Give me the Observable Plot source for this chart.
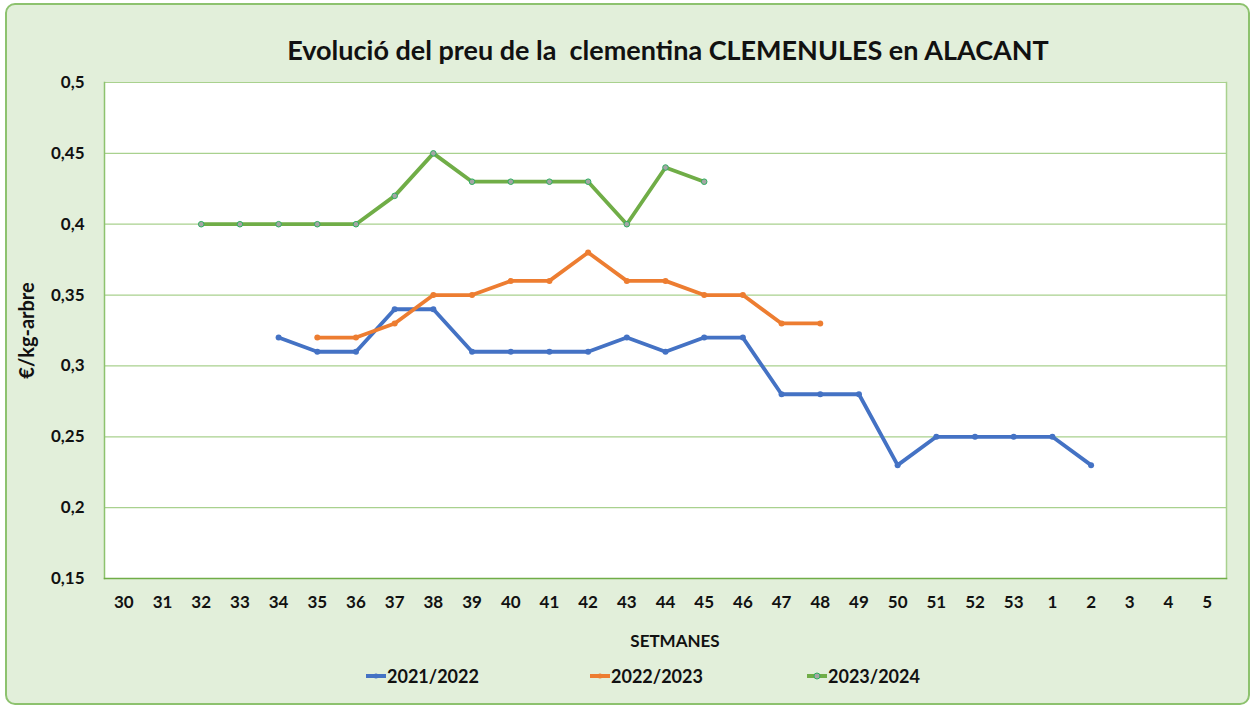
<!DOCTYPE html>
<html>
<head>
<meta charset="utf-8">
<script src="https://cdn.jsdelivr.net/npm/d3@7"></script>
<script src="https://cdn.jsdelivr.net/npm/@observablehq/plot@0.6"></script>
<style>
  html, body { margin: 0; padding: 0; background: #ffffff; width: 1255px; height: 708px; overflow: hidden; font-family: Lato, "Open Sans", sans-serif; }
  #card { position: absolute; left: 5px; top: 3px; width: 1245px; height: 702px; box-sizing: border-box; border: 2px solid #8DC26E; border-radius: 10px; background: #E2EFDA; }
  #title { position: absolute; left: 0; width: 1336px; top: 33px; text-align: center; font-size: 27px; font-weight: 700; color: #111; white-space: pre; }
  #chart { position: absolute; left: 0; top: 0; }
  #xlabel { position: absolute; left: 0; width: 1350px; top: 630px; text-align: center; font-size: 17px; font-weight: 700; color: #111; }
  .leg { position: absolute; top: 665px; font-size: 18px; font-weight: 700; color: #111; display: flex; align-items: center; }
  .leg svg { margin-right: 1px; }
</style>
</head>
<body>
<div id="card"></div>
<div id="chart"></div>
<div id="title"></div>
<div id="xlabel"></div>
<div id="legend"></div>
<script>
const titleText = "Evolució del preu de la  clementina CLEMENULES en ALACANT";
const yLabel = "€/kg-arbre";
const xLabel = "SETMANES";

const weeks = ["30","31","32","33","34","35","36","37","38","39","40","41","42","43","44","45","46","47","48","49","50","51","52","53","1","2","3","4","5"];
const yTicks = [0.15, 0.2, 0.25, 0.3, 0.35, 0.4, 0.45, 0.5];
const yTickLabels = ["0,15","0,2","0,25","0,3","0,35","0,4","0,45","0,5"];

const seasons = ["2021/2022", "2022/2023", "2023/2024"];
const colors = ["#4472C4", "#ED7D31", "#70AD47"];

const weeks2122 = ["34","35","36","37","38","39","40","41","42","43","44","45","46","47","48","49","50","51","52","53","1","2"];
const values2122 = [0.32,0.31,0.31,0.34,0.34,0.31,0.31,0.31,0.31,0.32,0.31,0.32,0.32,0.28,0.28,0.28,0.23,0.25,0.25,0.25,0.25,0.23];

const weeks2223 = ["35","36","37","38","39","40","41","42","43","44","45","46","47","48"];
const values2223 = [0.32,0.32,0.33,0.35,0.35,0.36,0.36,0.38,0.36,0.36,0.35,0.35,0.33,0.33];

const weeks2324 = ["32","33","34","35","36","37","38","39","40","41","42","43","44","45"];
const values2324 = [0.40,0.40,0.40,0.40,0.40,0.42,0.45,0.43,0.43,0.43,0.43,0.40,0.44,0.43];

const mk = (season, ws, vs) => ws.map((w, i) => ({season, week: w, value: vs[i]}));
const d1 = mk(seasons[0], weeks2122, values2122);
const d2 = mk(seasons[1], weeks2223, values2223);
const d3s = mk(seasons[2], weeks2324, values2324);

document.getElementById("title").textContent = titleText;
document.getElementById("xlabel").textContent = xLabel;

const gridColor = "#A9D18E";
const frameColor = "#8DC26E";

const chart = Plot.plot({
  width: 1255,
  height: 640,
  marginLeft: 104,
  marginRight: 29,
  marginTop: 82,
  marginBottom: 62,
  style: { background: "transparent", fontFamily: "Lato, 'Open Sans', sans-serif", fontSize: "17px", fontWeight: 700, color: "#111" },
  x: { type: "point", domain: weeks, padding: 0.5, round: false, label: null },
  y: { domain: [0.15, 0.5], label: null },
  marks: [
    Plot.frame({ fill: "white", stroke: null }),
    Plot.ruleY(yTicks, { stroke: gridColor, strokeWidth: 1.2 }),
    Plot.frame({ stroke: frameColor, strokeWidth: 1.5, anchor: "left" }),
    Plot.frame({ stroke: "#A9D18E", strokeWidth: 1.5, anchor: "right" }),
    Plot.frame({ stroke: "#70AD47", strokeWidth: 1.5, anchor: "bottom" }),
    Plot.axisX({ ticks: weeks, tickSize: 0, tickPadding: 17, fontSize: 17, fontWeight: 700, label: null }),
    Plot.axisY({ ticks: yTicks, tickSize: 0, tickPadding: 20, tickFormat: (d) => yTickLabels[yTicks.indexOf(d)] ?? "", fontSize: 17, fontWeight: 700, label: null }),
    Plot.text([yLabel], { frameAnchor: "left", textAnchor: "middle", dx: -77, rotate: -90, text: (d) => d, fontSize: 20, fontWeight: 700, fill: "#111" }),
    Plot.line(d1, { x: "week", y: "value", stroke: colors[0], strokeWidth: 3.8 }),
    Plot.dot(d1, { x: "week", y: "value", fill: colors[0], r: 3 }),
    Plot.line(d2, { x: "week", y: "value", stroke: colors[1], strokeWidth: 3.8 }),
    Plot.dot(d2, { x: "week", y: "value", fill: colors[1], r: 3 }),
    Plot.line(d3s, { x: "week", y: "value", stroke: colors[2], strokeWidth: 3.8 }),
    Plot.dot(d3s, { x: "week", y: "value", fill: "#A5A5A5", stroke: "#2FB060", strokeWidth: 1, r: 2.8 })
  ]
});
document.getElementById("chart").appendChild(chart);

// Legend
const legendLefts = [366, 590, 807];
const legend = document.getElementById("legend");
seasons.forEach((s, i) => {
  const item = document.createElement("div");
  item.className = "leg";
  item.style.left = legendLefts[i] + "px";
  const marker = i === 2
    ? `<circle cx="10" cy="6" r="3" fill="#A5A5A5" stroke="#2FB060" stroke-width="1"/>`
    : `<circle cx="10" cy="6" r="2.5" fill="${colors[i]}"/>`;
  item.innerHTML = `<svg width="20" height="12"><line x1="0" x2="20" y1="6" y2="6" stroke="${colors[i]}" stroke-width="4"/>${marker}</svg><span>${s}</span>`;
  legend.appendChild(item);
});
</script>
</body>
</html>
